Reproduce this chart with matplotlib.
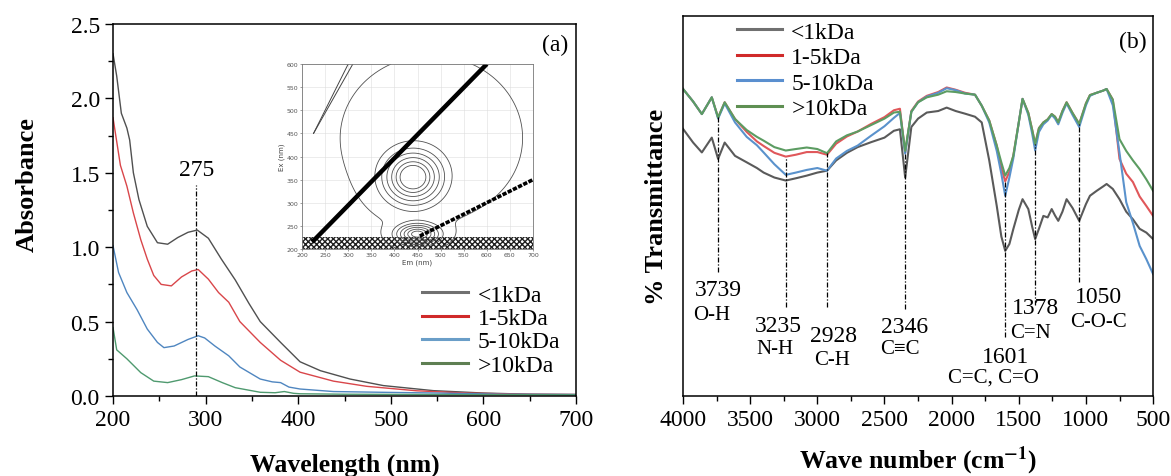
import numpy as np
import matplotlib.pyplot as plt
from matplotlib.lines import Line2D

plt.rcParams['font.family'] = ['Liberation Serif', 'DejaVu Serif']
plt.rcParams['mathtext.fontset'] = 'stix'

# ---- UV-vis absorbance (panel a) ----
uv_labels = ['<1kDa', '1-5kDa', '5-10kDa', '>10kDa']
uv_colors = ['#505050', '#d9464a', '#4f86c0', '#4f9a6f']

wl_k = [200, 204, 209, 215, 218, 222, 228, 237, 248, 259, 270, 281, 291, 303, 317,
        332, 347, 359, 381, 402, 424, 456, 492, 546, 600, 650, 700]
abs_k = [2.30, 2.15, 1.90, 1.80, 1.72, 1.50, 1.32, 1.14, 1.03, 1.02, 1.065, 1.10, 1.115,
         1.06, 0.92, 0.78, 0.62, 0.50, 0.36, 0.23, 0.17, 0.114, 0.07, 0.036, 0.02, 0.012, 0.01]

wl_r = [200, 208, 215, 222, 230, 237, 244, 252, 263, 274, 285, 292, 303, 314, 325,
        337, 359, 381, 402, 438, 474, 528, 582, 640, 700]
abs_r = [1.87, 1.55, 1.41, 1.23, 1.05, 0.92, 0.81, 0.75, 0.74, 0.80, 0.84, 0.85, 0.785,
         0.695, 0.63, 0.50, 0.36, 0.24, 0.16, 0.10, 0.065, 0.035, 0.02, 0.012, 0.01]

wl_b = [200, 206, 215, 226, 237, 248, 255, 266, 281, 292, 299, 310, 325, 337, 359,
        372, 381, 390, 402, 438, 490, 550, 620, 700]
abs_b = [1.01, 0.83, 0.695, 0.58, 0.45, 0.36, 0.325, 0.336, 0.38, 0.405, 0.39, 0.336,
         0.27, 0.195, 0.114, 0.095, 0.09, 0.06, 0.047, 0.03, 0.025, 0.02, 0.012, 0.01]

wl_g = [200, 204, 215, 230, 244, 259, 274, 288, 303, 318, 332, 359, 375, 385, 395,
        402, 450, 550, 700]
abs_g = [0.46, 0.31, 0.25, 0.157, 0.10, 0.09, 0.11, 0.135, 0.13, 0.09, 0.056, 0.025,
         0.022, 0.03, 0.018, 0.015, 0.012, 0.01, 0.008]

uv_x = [wl_k, wl_r, wl_b, wl_g]
uv_y = [abs_k, abs_r, abs_b, abs_g]
uv_peak = 290
uv_peak_label = '275'

# ---- EEM inset parameters ----
eem_em_c = [440, 450, 480]
eem_ex_c = [355, 232, 440]
eem_em_w = [55, 40, 310]
eem_ex_w = [50, 20, 280]
eem_height = [1.0, 0.9, 0.12]
eem_levels = [0.08, 0.2, 0.32, 0.45, 0.6, 0.75, 0.88]

# ---- FTIR transmittance (panel b) ----
ftir_labels = ['<1kDa', '1-5kDa', '5-10kDa', '>10kDa']
ftir_colors = ['#5a5a5a', '#e0575a', '#5a92cc', '#5c9c62']

wn = [4000, 3925, 3860, 3786, 3739, 3690, 3613, 3526, 3450, 3400, 3320, 3235, 3160, 3079,
      3000, 2928, 2860, 2780, 2700, 2600, 2500, 2430, 2385, 2346, 2300, 2250, 2185, 2100,
      2037, 1970, 1900, 1826, 1776, 1720, 1664, 1630, 1601, 1570, 1541, 1500, 1472, 1429,
      1400, 1378, 1350, 1317, 1285, 1255, 1230, 1206, 1175, 1144, 1100, 1050, 1000, 970,
      920, 870, 846, 800, 750, 700, 650, 600, 550, 500]

t_k = [70.3, 66.7, 64.1, 68.0, 62.4, 66.7, 63.2, 61.5, 60.0, 58.8, 57.5, 56.7, 57.3, 58.0,
       58.8, 59.3, 62.0, 64.0, 65.5, 66.8, 68.0, 69.8, 70.2, 57.5, 70.8, 73.0, 74.6, 75.0,
       75.9, 75.0, 74.3, 73.5, 72.0, 62.0, 50.0, 42.0, 38.2, 40.0, 43.9, 49.0, 51.8, 49.2,
       44.5, 41.3, 44.0, 47.4, 47.0, 49.2, 47.5, 46.1, 48.5, 51.8, 49.5, 46.1, 50.5, 52.7,
       54.0, 55.2, 55.8, 54.5, 51.8, 48.5, 46.5, 44.0, 43.0, 41.3]

t_r = [80.8, 77.5, 74.2, 78.6, 73.3, 77.3, 72.9, 69.5, 67.0, 65.8, 64.0, 63.0, 63.5, 64.2,
       64.2, 63.5, 66.4, 68.3, 69.6, 71.6, 73.4, 75.2, 75.6, 64.1, 75.0, 77.5, 79.0, 80.0,
       81.2, 80.6, 79.8, 79.3, 76.4, 72.5, 65.9, 60.0, 56.5, 59.0, 63.2, 72.0, 78.2, 74.5,
       70.0, 66.3, 70.5, 72.0, 72.8, 74.2, 73.5, 72.0, 75.0, 77.3, 74.5, 71.6, 77.0, 79.2,
       79.8, 80.4, 80.8, 78.0, 62.4, 58.5, 56.3, 52.5, 50.0, 47.4]

t_b = [80.8, 77.5, 74.2, 78.6, 73.0, 77.0, 72.0, 68.2, 66.0, 64.1, 61.0, 58.2, 58.8, 59.5,
       60.0, 59.3, 62.5, 64.5, 65.9, 68.5, 71.0, 73.2, 74.5, 63.8, 74.8, 77.3, 78.8, 79.8,
       81.0, 80.5, 79.6, 79.3, 76.4, 72.0, 64.5, 58.5, 52.7, 57.5, 62.5, 72.0, 78.2, 74.0,
       69.0, 64.6, 69.5, 71.5, 72.5, 74.0, 73.0, 71.5, 74.5, 77.0, 74.0, 70.8, 76.5, 79.0,
       79.8, 80.4, 80.8, 76.5, 64.0, 51.0, 45.5, 39.5, 36.0, 32.1]

t_g = [80.8, 77.5, 74.2, 78.6, 73.3, 77.3, 72.9, 70.0, 68.2, 67.2, 65.5, 64.6, 65.0, 65.4,
       65.0, 63.9, 67.0, 68.6, 69.6, 71.3, 73.0, 74.6, 74.8, 64.5, 74.8, 77.3, 78.6, 79.3,
       80.2, 80.0, 79.6, 79.3, 76.4, 72.5, 65.9, 61.5, 58.0, 60.0, 63.2, 72.0, 78.2, 74.5,
       70.0, 66.3, 70.5, 72.0, 72.8, 74.2, 73.5, 72.0, 75.0, 77.3, 74.5, 71.6, 77.0, 79.2,
       79.8, 80.4, 80.8, 78.0, 67.6, 64.5, 62.0, 59.7, 57.0, 54.0]

ftir_y = [t_k, t_r, t_b, t_g]

# band markers: position, top of guide line, bottom of guide line
band_wn = [3739, 3235, 2928, 2346, 1601, 1378, 1050]
band_top = [73.3, 63.0, 63.9, 64.1, 56.5, 66.3, 71.6]
band_bot = [32.6, 23.4, 23.4, 23.0, 15.5, 24.0, 30.0]
band_num = ['3739', '3235', '2928', '2346', '1601', '1378', '1050']
band_num_xy = [(3739, 28.0), (3293, 18.5), (2876, 15.8), (2347, 18.4), (1602, 10.5),
               (1379, 23.4), (910, 26.3)]
band_bond = ['O-H', 'N-H', 'C-H', 'C\u2261C', 'C=C, C=O', 'C=N', 'C-O-C']
band_bond_xy = [(3785, 21.5), (3315, 12.4), (2890, 9.7), (2385, 12.4), (1690, 5.0),
                (1415, 16.8), (910, 19.7)]

fig = plt.figure(figsize=(11.71, 4.77), dpi=100)

# ---------------- panel (a) ----------------
ax1 = fig.add_axes([0.0965, 0.1677, 0.3954, 0.780])
for xs, ys, c in zip(uv_x, uv_y, uv_colors):
    ax1.plot(xs, ys, color=c, lw=1.0)
ax1.plot([uv_peak, uv_peak], [0, 1.42], color='k', lw=0.9, ls=(0, (4, 1.5, 1, 1.5)))
ax1.text(uv_peak, 1.52, uv_peak_label, ha='center', va='center', fontsize=17)
ax1.set_xlim(200, 700)
ax1.set_ylim(0, 2.5)
ax1.set_xticks(np.arange(200, 701, 100))
ax1.set_xticks(np.arange(200, 701, 50), minor=True)
ax1.set_yticks(np.arange(0, 2.51, 0.5))
ax1.set_yticks(np.arange(0, 2.51, 0.25), minor=True)
ax1.yaxis.set_major_formatter(plt.FormatStrFormatter('%.1f'))
ax1.tick_params(which='major', direction='out', length=6, width=1, labelsize=17)
ax1.tick_params(which='minor', direction='out', length=3.5, width=1)
ax1.set_xlabel('Wavelength (nm)', fontsize=18.5, fontweight='bold')
ax1.set_ylabel('Absorbance', fontsize=19, fontweight='bold')
ax1.xaxis.set_label_coords(0.5, -0.152)
ax1.yaxis.set_label_coords(-0.16, 0.57)
ax1.text(0.955, 0.946, '(a)', transform=ax1.transAxes, ha='center', va='center', fontsize=17)
for s in ax1.spines.values():
    s.set_linewidth(1.1)

handles = [Line2D([], [], color=c, lw=2.2) for c in ['#707070', '#d02a2a', '#6a9ec8', '#5e7f52']]
ax1.legend(handles, uv_labels, loc='upper left', bbox_to_anchor=(422 / 1171, 1 - 285 / 477),
           bbox_transform=fig.transFigure, frameon=False, fontsize=17, handlelength=1.95,
           handletextpad=0.4, labelspacing=0.08, borderpad=0, borderaxespad=0)

# EEM inset
axi = fig.add_axes([0.2579, 0.4759, 0.1973, 0.3878])
em = np.linspace(200, 700, 251)
ex = np.linspace(200, 600, 201)
EM, EX = np.meshgrid(em, ex)
field = np.zeros_like(EM)
for ce, cx, we, wx, h in zip(eem_em_c, eem_ex_c, eem_em_w, eem_ex_w, eem_height):
    field += h * np.exp(-((EM - ce) / we) ** 2 - ((EX - cx) / wx) ** 2)
axi.contour(EM, EX, field, levels=eem_levels, colors='#505050', linewidths=0.6)
axi.fill_between([200, 700], 200, 226, facecolor='none', edgecolor='#202020',
                 hatch='xxxxxx', linewidth=0)
axi.plot([222, 600], [215, 600], color='k', lw=3.2, solid_capstyle='butt')
axi.plot([455, 700], [228, 350], color='k', lw=2.6, ls=(0, (1.2, 0.4)))
axi.plot([225, 300], [450, 600], color='#444444', lw=0.7)
axi.plot([225, 310], [450, 600], color='#444444', lw=0.7)
axi.set_xlim(200, 700)
axi.set_ylim(200, 600)
axi.set_xticks(np.arange(200, 701, 50))
axi.set_yticks(np.arange(200, 601, 50))
axi.grid(True, color='#dddddd', lw=0.4)
axi.set_axisbelow(True)
axi.tick_params(labelsize=4.5, length=1.5, width=0.4, colors='#555555', pad=1)
axi.set_xlabel('Em (nm)', fontsize=5, color='#444444', labelpad=1, family='DejaVu Sans')
axi.set_ylabel('Ex (nm)', fontsize=5, color='#444444', labelpad=1, family='DejaVu Sans')
for lab in axi.get_xticklabels() + axi.get_yticklabels():
    lab.set_family('DejaVu Sans')
for s in axi.spines.values():
    s.set_color('#777777')
    s.set_linewidth(0.6)

# ---------------- panel (b) ----------------
ax2 = fig.add_axes([0.5833, 0.1677, 0.4014, 0.7966])
for ys, c in zip(ftir_y, ftir_colors):
    ax2.plot(wn, ys, color=c, lw=1.5)
for w, t, b in zip(band_wn, band_top, band_bot):
    ax2.plot([w, w], [b, t], color='k', lw=0.9, ls=(0, (4, 1.5, 1, 1.5)))
for s, (x, y) in zip(band_num, band_num_xy):
    ax2.text(x, y, s, ha='center', va='center', fontsize=17)
for s, (x, y) in zip(band_bond, band_bond_xy):
    ax2.text(x, y, s, ha='center', va='center', fontsize=15)
ax2.set_xlim(4000, 500)
ax2.set_ylim(0, 100)
ax2.set_xticks(np.arange(4000, 499, -500))
ax2.set_xticks(np.arange(4000, 499, -250), minor=True)
ax2.set_yticks([])
ax2.tick_params(which='major', direction='out', length=6, width=1, labelsize=17)
ax2.tick_params(which='minor', direction='out', length=3.5, width=1)
ax2.set_xlabel(r'Wave number (cm$^{\mathbf{-1}}$)', fontsize=18.5, fontweight='bold')
ax2.set_ylabel('% Transmittance', fontsize=19, fontweight='bold')
ax2.xaxis.set_label_coords(0.5, -0.124)
ax2.yaxis.set_label_coords(-0.033, 0.5)
ax2.text(0.957, 0.934, '(b)', transform=ax2.transAxes, ha='center', va='center', fontsize=17)
for s in ax2.spines.values():
    s.set_linewidth(1.1)

handles = [Line2D([], [], color=c, lw=2.2) for c in ['#707070', '#d02a2a', '#5a8fcf', '#5e8f52']]
ax2.legend(handles, ftir_labels, loc='upper left', bbox_to_anchor=(737 / 1171, 1 - 22 / 477),
           bbox_transform=fig.transFigure, frameon=False, fontsize=17, handlelength=1.9,
           handletextpad=0.4, labelspacing=0.17, borderpad=0, borderaxespad=0)

fig.savefig('out.png', dpi=100)
